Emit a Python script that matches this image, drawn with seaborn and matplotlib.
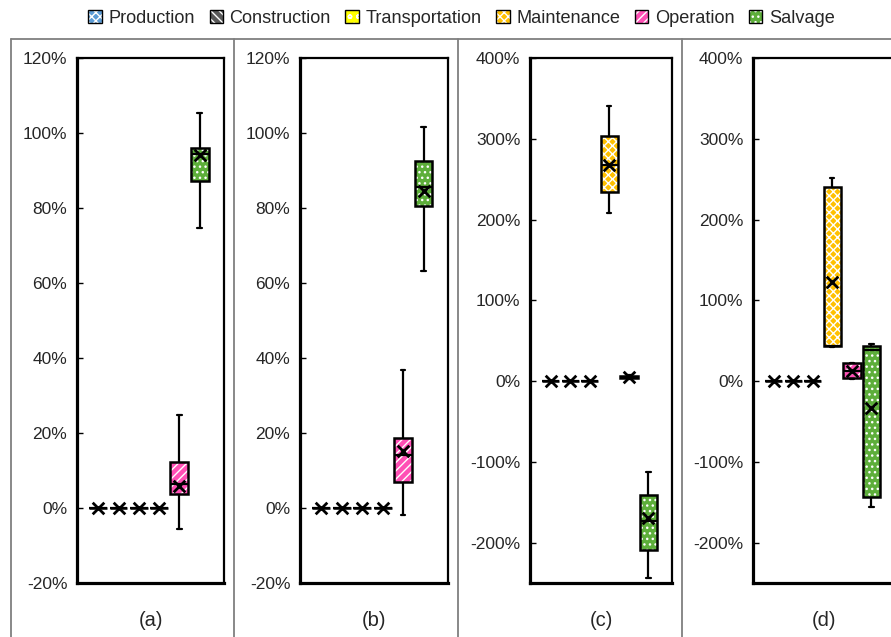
import numpy as np
import pandas as pd
import matplotlib
matplotlib.use("Agg")
import matplotlib.pyplot as plt
import seaborn as sns
from matplotlib.patches import PathPatch, Patch
from matplotlib.lines import Line2D
from matplotlib.ticker import PercentFormatter, FixedLocator
from matplotlib.legend_handler import HandlerTuple

# ---------------- data (percent) ----------------
categories = ["Production", "Construction", "Transportation", "Maintenance", "Operation", "Salvage"]
colors = ["#5B9BD5", "#595959", "#FFFF00", "#FFC000", "#FF4FB5", "#5DAE3A"]
hatches = ["xxxx", "\\\\\\\\", "oo", "xxxx", "////", "..."]
panel_labels = ["(a)", "(b)", "(c)", "(d)"]

# panel (a)
a_whislo = [0, 0, 0, 0, -5.6, 74.6]
a_q1     = [0, 0, 0, 0, 3.7, 87.3]
a_med    = [0, 0, 0, 0, 6.4, 94.4]
a_q3     = [0, 0, 0, 0, 12.4, 95.9]
a_whishi = [0, 0, 0, 0, 24.9, 105.3]
a_mean   = [0, 0, 0, 0, 5.9, 94.1]
# panel (b)
b_whislo = [0, 0, 0, 0, -1.9, 63.1]
b_q1     = [0, 0, 0, 0, 7.0, 80.6]
b_med    = [0, 0, 0, 0, 14.1, 85.5]
b_q3     = [0, 0, 0, 0, 18.8, 92.6]
b_whishi = [0, 0, 0, 0, 36.8, 101.7]
b_mean   = [0, 0, 0, 0, 15.3, 84.6]
# panel (c)
c_whislo = [0, 0, 0, 208.7, 2.0, -244.0]
c_q1     = [0, 0, 0, 233.5, 3.5, -209.0]
c_med    = [0, 0, 0, 267.6, 5.0, -173.0]
c_q3     = [0, 0, 0, 304.0, 6.0, -141.0]
c_whishi = [0, 0, 0, 340.0, 7.0, -113.0]
c_mean   = [0, 0, 0, 267.0, 5.0, -170.0]
# panel (d)
d_whislo = [0, 0, 0, 42.0, 2.0, -156.0]
d_q1     = [0, 0, 0, 43.5, 3.3, -144.0]
d_med    = [0, 0, 0, 44.0, 12.0, 38.0]
d_q3     = [0, 0, 0, 240.0, 21.8, 43.5]
d_whishi = [0, 0, 0, 252.0, 22.5, 45.6]
d_mean   = [0, 0, 0, 122.6, 12.0, -33.5]

panels = [
    (a_whislo, a_q1, a_med, a_q3, a_whishi, a_mean),
    (b_whislo, b_q1, b_med, b_q3, b_whishi, b_mean),
    (c_whislo, c_q1, c_med, c_q3, c_whishi, c_mean),
    (d_whislo, d_q1, d_med, d_q3, d_whishi, d_mean),
]
ylims = [(-20, 120), (-20, 120), (-250, 400), (-250, 400)]
yticks = [np.arange(-20, 121, 20), np.arange(-20, 121, 20),
          np.arange(-200, 401, 100), np.arange(-200, 401, 100)]

# ---------------- style ----------------
sns.set_theme(style="white")
plt.rcParams["font.family"] = ["Liberation Sans", "DejaVu Sans"]
plt.rcParams["axes.unicode_minus"] = False
plt.rcParams["hatch.linewidth"] = 1.0

W, H = 891, 637
fig = plt.figure(figsize=(W / 100, H / 100), dpi=100)

ax_px = [(77, 224), (300, 448), (530, 672), (753, 895)]
top_px, bot_px = 58, 583

for i, (stats, (l, r)) in enumerate(zip(panels, ax_px)):
    ax = fig.add_axes([l / W, (H - bot_px) / H, (r - l) / W, (bot_px - top_px) / H])
    whislo, q1, med, q3, whishi, mean = stats
    rows = []
    for k, cat in enumerate(categories):
        for v in (whislo[k], q1[k], med[k], q3[k], whishi[k]):
            rows.append({"cat": cat, "val": v})
    df = pd.DataFrame(rows)
    sns.boxplot(data=df, x="cat", y="val", hue="cat", order=categories, hue_order=categories,
                palette=colors, width=0.88, whis=(0, 100), linecolor="black", linewidth=1.6,
                legend=False, ax=ax, capwidths=0.22, showfliers=False)
    # hatch + outline overlays
    for p in list(ax.patches):
        verts = p.get_path().vertices
        xc = (verts[:, 0].min() + verts[:, 0].max()) / 2
        k = int(round(xc))
        path = p.get_path()
        tr = p.get_transform()
        p.set_facecolor(colors[k])
        p.set_edgecolor("none")
        ax.add_patch(PathPatch(path, transform=tr, facecolor="none", edgecolor="white",
                               hatch=hatches[k], lw=0, zorder=2.05))
        ax.add_patch(PathPatch(path, transform=tr, facecolor="none", edgecolor="black",
                               lw=1.8, zorder=2.1))
    for ln in ax.lines:
        ln.set_zorder(2.2)
    mdf = pd.DataFrame({"pos": np.arange(len(categories)), "mean": mean})
    sns.scatterplot(data=mdf, x="pos", y="mean", marker="x", s=70, color="black",
                    linewidth=2.0, zorder=5, ax=ax, legend=False)
    ax.set_xlim(-1.05, 6.2)
    ax.set_ylim(*ylims[i])
    ax.yaxis.set_major_locator(FixedLocator(yticks[i]))
    ax.yaxis.set_major_formatter(PercentFormatter(decimals=0))
    ax.set_xticks([])
    ax.set_xlabel("")
    ax.set_ylabel("")
    ax.tick_params(axis="y", direction="in", length=4, width=1, color="black",
                   labelsize=12.5, pad=7, labelcolor="#262626", left=True)
    for side in ["left", "bottom"]:
        ax.spines[side].set_linewidth(2.3)
        ax.spines[side].set_color("black")
    for side in ["top", "right"]:
        ax.spines[side].set_linewidth(1.6)
        ax.spines[side].set_color("black")
    fig.text((l + r) / 2 / W, 1 - 620 / H, panel_labels[i], ha="center", va="center",
             fontsize=14.5, color="#262626")

# frames
for x in [11, 234, 458, 682]:
    fig.add_artist(Line2D([x / W, x / W], [0, 1 - 39 / H], transform=fig.transFigure,
                          color="#7F7F7F", lw=1.3))
fig.add_artist(Line2D([11 / W, 1], [1 - 39 / H, 1 - 39 / H], transform=fig.transFigure,
                      color="#7F7F7F", lw=1.3))

# legend
handles = []
for c, h in zip(colors, hatches):
    handles.append((Patch(facecolor=c, edgecolor="white", hatch=h, lw=0),
                    Patch(facecolor="none", edgecolor="black", lw=1.0)))
fig.legend(handles, categories, loc="center", bbox_to_anchor=(0.518, 1 - 18.5 / H), ncol=6,
           frameon=False, fontsize=13.1, handlelength=0.75, handleheight=0.75,
           handletextpad=0.35, columnspacing=0.8,
           handler_map={tuple: HandlerTuple(ndivide=1)}, labelcolor="#262626")

fig.savefig("out.png", dpi=100)
